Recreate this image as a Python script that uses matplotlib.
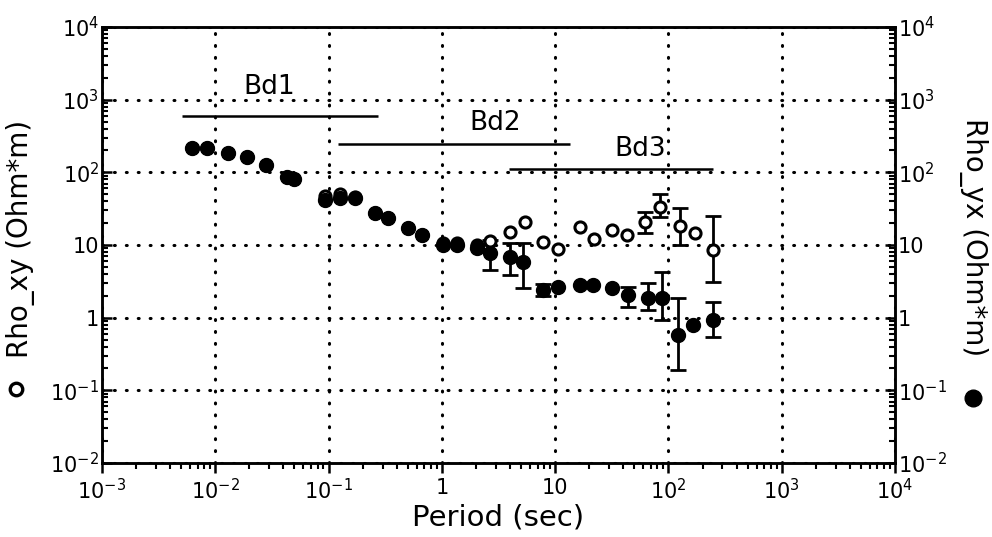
import numpy as np
import matplotlib
matplotlib.use("Agg")
import matplotlib.pyplot as plt
from matplotlib.ticker import LogLocator, NullFormatter, FixedLocator

# Rho_xy (open symbols)
period_xy = [0.0062, 0.0085, 0.0129, 0.0191, 0.028, 0.043, 0.050, 0.093, 0.126, 0.171,
             0.257, 0.334, 0.50, 0.67, 1.02, 1.36, 2.04, 2.66, 4.0, 5.4, 7.8, 10.6,
             16.6, 22, 32, 43, 62, 84, 126, 171, 247]
rho_xy = [217, 217, 185, 163, 126, 86, 81, 48, 50, 46,
          27.7, 23.6, 17.2, 13.8, 10.5, 10.5, 10, 11.5, 15.1, 20.8, 11.0, 8.8,
          17.7, 12.1, 16.1, 13.8, 21, 33, 18.5, 14.5, 8.6]
# error bars on rho_xy
err_xy_period = [62, 84, 126, 247]
err_xy_val = [21, 33, 18.5, 8.6]
err_xy_lo = [14.7, 24.3, 10.0, 3.1]
err_xy_hi = [28.5, 50.5, 32.4, 25.2]

# Rho_yx (filled symbols)
period_yx = [0.0062, 0.0085, 0.0129, 0.0191, 0.028, 0.043, 0.050, 0.093, 0.126, 0.171,
             0.257, 0.334, 0.50, 0.67, 1.02, 1.36, 2.04, 2.66, 4.0, 5.2, 7.8, 10.6,
             16.6, 21.6, 31.7, 44, 66, 88, 121, 164, 247]
rho_yx = [217, 217, 185, 163, 126, 86, 81, 42, 44.5, 44.5,
          27.7, 23.6, 17.2, 13.8, 10, 10, 9.1, 7.8, 6.9, 5.9, 2.41, 2.65,
          2.82, 2.82, 2.57, 2.06, 1.87, 1.87, 0.58, 0.80, 0.93]
# error bars on rho_yx
err_yx_period = [2.66, 4.0, 5.2, 7.8, 44, 66, 88, 121, 247]
err_yx_val = [7.8, 6.9, 5.9, 2.41, 2.06, 1.87, 1.87, 0.58, 0.93]
err_yx_lo = [4.5, 3.9, 2.57, 2.0, 1.41, 1.28, 0.94, 0.19, 0.54]
err_yx_hi = [11.7, 10.7, 10.7, 2.9, 2.65, 3.0, 4.3, 1.87, 1.65]

# frequency bands
band_names = ["Bd1", "Bd2", "Bd3"]
band_start = [0.0051, 0.121, 3.91]
band_end = [0.273, 13.5, 247]
band_level = [597, 245, 111]
band_label_x = [0.030, 2.94, 56]
band_label_y = [1500, 479, 210]

plt.rcParams['font.family'] = ['DejaVu Sans']

fig = plt.figure(figsize=(9.92, 5.37), dpi=100)
ax = fig.add_axes([0.1028, 0.1378, 0.7994, 0.8119])
ax.set_xscale('log')
ax.set_yscale('log')
ax.set_xlim(1e-3, 1e4)
ax.set_ylim(1e-2, 1e4)

ax.grid(True, which='major', color='black', linestyle=(0, (0.3, 3.6)),
        linewidth=2.2, dash_capstyle='round')

# error bars
yerr_xy = [np.array(err_xy_val) - np.array(err_xy_lo), np.array(err_xy_hi) - np.array(err_xy_val)]
ax.errorbar(err_xy_period, err_xy_val, yerr=yerr_xy, fmt='none', ecolor='black',
            elinewidth=2, capsize=6, capthick=2, zorder=3)
yerr_yx = [np.array(err_yx_val) - np.array(err_yx_lo), np.array(err_yx_hi) - np.array(err_yx_val)]
ax.errorbar(err_yx_period, err_yx_val, yerr=yerr_yx, fmt='none', ecolor='black',
            elinewidth=2, capsize=6, capthick=2, zorder=3)

ax.plot(period_xy, rho_xy, 'o', mfc='white', mec='black', mew=2.2, ms=8, zorder=4)
ax.plot(period_yx, rho_yx, 'o', mfc='black', mec='black', ms=10, zorder=5)

for name, x0, x1, lev, lx, ly in zip(band_names, band_start, band_end, band_level,
                                     band_label_x, band_label_y):
    ax.hlines(lev, x0, x1, color='black', linewidth=1.8, zorder=3)
    ax.text(lx, ly, name, fontsize=19, ha='center', va='center')

for s in ax.spines.values():
    s.set_linewidth(1.8)

xt = [10.0 ** k for k in range(-3, 5)]
xl = ['$10^{-3}$', '$10^{-2}$', '$10^{-1}$', '1', '10', '$10^{2}$', '$10^{3}$', '$10^{4}$']
ax.xaxis.set_major_locator(FixedLocator(xt))
ax.set_xticklabels(xl)
ax.xaxis.set_minor_locator(LogLocator(base=10, subs=np.arange(2, 10), numticks=20))
ax.xaxis.set_minor_formatter(NullFormatter())

yt = [10.0 ** k for k in range(-2, 5)]
yl = ['$10^{-2}$', '$10^{-1}$', '1', '10', '$10^{2}$', '$10^{3}$', '$10^{4}$']
ax.yaxis.set_major_locator(FixedLocator(yt))
ax.set_yticklabels(yl)
ax.yaxis.set_minor_locator(LogLocator(base=10, subs=np.arange(2, 10), numticks=20))
ax.yaxis.set_minor_formatter(NullFormatter())

ax.tick_params(axis='x', which='major', direction='out', length=7, width=1.8, labelsize=15, pad=4)
ax.tick_params(axis='x', which='minor', direction='out', length=4, width=1.5)
ax.tick_params(axis='y', which='major', direction='in', length=7, width=1.8, labelsize=15, pad=2)
ax.tick_params(axis='y', which='minor', direction='in', length=4, width=1.5)

ax2 = ax.twinx()
ax2.set_yscale('log')
ax2.set_ylim(1e-2, 1e4)
ax2.yaxis.set_major_locator(FixedLocator(yt))
ax2.set_yticklabels(yl)
ax2.yaxis.set_minor_locator(LogLocator(base=10, subs=np.arange(2, 10), numticks=20))
ax2.yaxis.set_minor_formatter(NullFormatter())
ax2.tick_params(axis='y', which='major', direction='in', length=7, width=1.8, labelsize=15, pad=2)
ax2.tick_params(axis='y', which='minor', direction='in', length=4, width=1.5)
for s in ax2.spines.values():
    s.set_linewidth(1.8)

ax.set_xlabel('Period (sec)', fontsize=21, va='center')
ax.xaxis.set_label_coords(0.5, -0.126)

fig.text(0.021, 0.555, 'Rho_xy (Ohm*m)', rotation=90, fontsize=20, ha='center', va='center')
ax.plot([0.016], [0.276], 'o', mfc='white', mec='black', mew=2.4, ms=9,
        transform=fig.transFigure, clip_on=False)
fig.text(0.981, 0.558, 'Rho_yx (Ohm*m)', rotation=-90, fontsize=20, ha='center', va='center')
ax.plot([0.981], [0.259], 'o', mfc='black', mec='black', ms=12,
        transform=fig.transFigure, clip_on=False)

fig.savefig('out.png', dpi=100)
